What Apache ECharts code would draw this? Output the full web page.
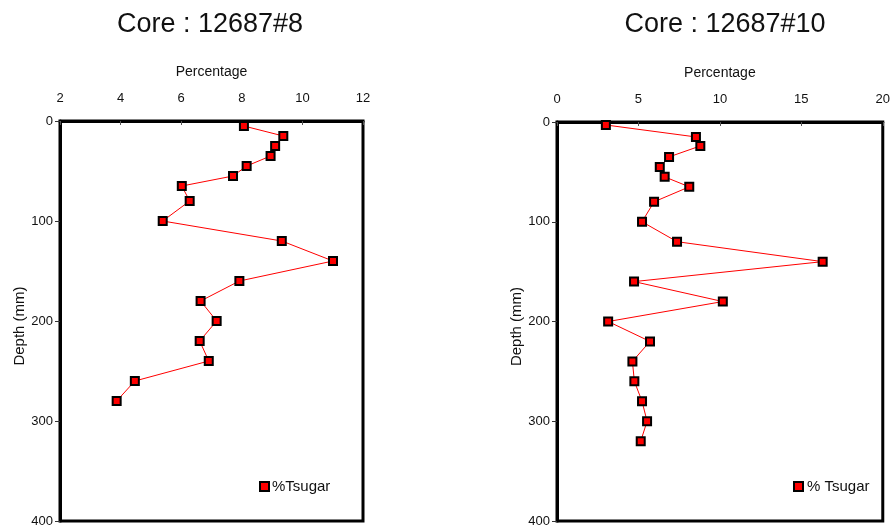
<!DOCTYPE html>
<html><head><meta charset="utf-8">
<script src="https://cdn.jsdelivr.net/npm/echarts@6/dist/echarts.min.js"></script>
<style>html,body{margin:0;padding:0;background:#fff}#c{width:893px;height:529px}</style>
</head><body><div id="c"></div>
<script>
const depths8 = [5,15,25,35,45,55,65,80,100,120,140,160,180,200,220,240,260,280];
const values8 = [8.07,9.37,9.1,8.95,8.16,7.71,6.02,6.28,5.39,9.32,11.01,7.92,6.64,7.17,6.61,6.91,4.47,3.87];
const depths10 = [3,15,24,35,45,55,65,80,100,120,140,160,180,200,220,240,260,280,300,320];
const values10 = [3.0,8.53,8.8,6.88,6.31,6.61,8.12,5.96,5.22,7.37,16.31,4.73,10.18,3.14,5.71,4.63,4.75,5.22,5.53,5.14];
const titles = ['Core : 12687#8','Core : 12687#10'];
const legendNames = ['%Tsugar','% Tsugar'];

const font = 'Liberation Sans, Arial, sans-serif';
const chart = echarts.init(document.getElementById('c'), null, {renderer:'canvas'});
function xAx(gi,min,max,interval){
  return {gridIndex:gi,type:'value',position:'top',min,max,interval,
    name:'Percentage',nameLocation:'middle',nameGap:42,
    nameTextStyle:{color:'#111',fontSize:14,fontFamily:font},
    axisLine:{show:true,onZero:false,lineStyle:{color:'#000',width:3}},
    axisTick:{show:true,inside:true,length:4,lineStyle:{color:'#555',width:1}},
    axisLabel:{color:'#111',fontSize:13,fontFamily:font,margin:16},
    splitLine:{show:false}};
}
function yAx(gi){
  return {gridIndex:gi,type:'value',inverse:true,min:0,max:400,interval:100,
    name:'Depth (mm)',nameLocation:'middle',nameGap:32,nameRotate:90,
    nameTextStyle:{color:'#111',fontSize:15,fontFamily:font,padding:[0,10,0,0]},
    axisLine:{show:true,onZero:false,lineStyle:{color:'#000',width:3}},
    axisTick:{show:true,inside:false,length:5,lineStyle:{color:'#333',width:1}},
    axisLabel:{color:'#111',fontSize:13,fontFamily:font,margin:7},
    splitLine:{show:false}};
}
function ser(name,gi,vals,deps){
  return {name,type:'line',xAxisIndex:gi,yAxisIndex:gi,
    data:vals.map((v,i)=>[v,deps[i]]),
    symbol:'rect',symbolSize:8,
    lineStyle:{color:'#ff0000',width:1},
    itemStyle:{color:'#ff0000',borderColor:'#000',borderWidth:2},
    emphasis:{disabled:true},animation:false};
}
chart.setOption({
  animation:false,
  backgroundColor:'#fff',
  title:[
    {text:titles[0],left:205,top:6,textAlign:'center',textStyle:{fontSize:27,fontWeight:'normal',color:'#111',fontFamily:font}},
    {text:titles[1],left:720,top:6,textAlign:'center',textStyle:{fontSize:27,fontWeight:'normal',color:'#111',fontFamily:font}}
  ],
  grid:[
    {left:60,top:121,width:303,height:400,show:true,borderColor:'#000',borderWidth:3,backgroundColor:'#fff'},
    {left:557,top:122,width:326,height:399,show:true,borderColor:'#000',borderWidth:3,backgroundColor:'#fff'}
  ],
  xAxis:[xAx(0,2,12,2),xAx(1,0,20,5)],
  yAxis:[yAx(0),yAx(1)],
  legend:[
    {data:[legendNames[0]],left:254,top:474,icon:'rect',itemWidth:9,itemHeight:9,itemGap:2,
      textStyle:{fontSize:15,color:'#111',fontFamily:font,padding:[0,0,0,-2]}},
    {data:[legendNames[1]],left:788,top:474,icon:'rect',itemWidth:9,itemHeight:9,itemGap:2,
      textStyle:{fontSize:15,color:'#111',fontFamily:font,padding:[0,0,0,-1]}}
  ],
  series:[ser(legendNames[0],0,values8,depths8),ser(legendNames[1],1,values10,depths10)]
});
</script></body></html>
